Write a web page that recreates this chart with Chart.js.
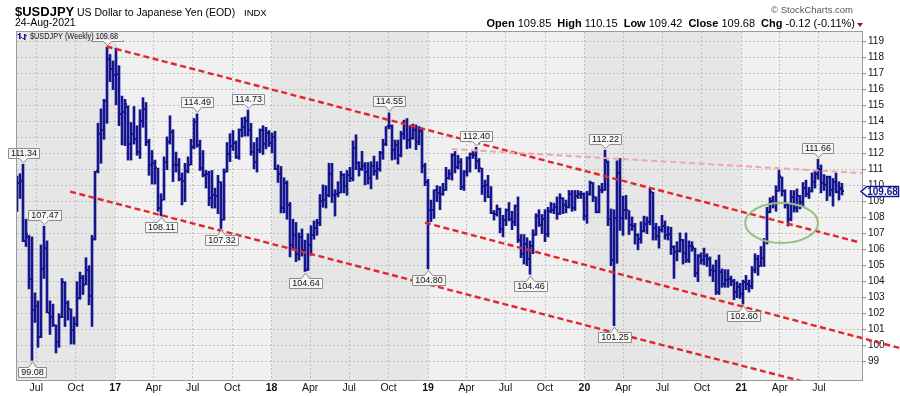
<!DOCTYPE html>
<html><head><meta charset="utf-8"><title>$USDJPY</title>
<script src="https://cdn.jsdelivr.net/npm/chart.js@4.4.1/dist/chart.umd.min.js"></script>
<style>
html,body{margin:0;padding:0;background:#fff;overflow:hidden}
#wrap{position:relative;width:900px;height:396px;font-family:"Liberation Sans",Arial,Helvetica,sans-serif;color:#000}
#c{position:absolute;left:0;top:0}
.t{position:absolute;white-space:nowrap;line-height:1}
#ohlc span{margin-left:6px}
</style></head><body>
<div id="wrap">
<canvas id="c" width="900" height="396"></canvas>
<div class="t" style="left:15px;top:5px;font-size:13px;font-weight:bold">$USDJPY</div>
<div class="t" style="left:77px;top:6.6px;font-size:10.5px">US Dollar to Japanese Yen (EOD)</div>
<div class="t" style="left:244px;top:7.5px;font-size:9.5px">INDX</div>
<div class="t" style="left:15px;top:17.4px;font-size:10.5px">24-Aug-2021</div>
<div class="t" style="right:47px;top:4.5px;font-size:9.5px;color:#555">© StockCharts.com</div>
<div class="t" id="ohlc" style="right:45px;top:18px;font-size:11px"></div>
<div style="position:absolute;left:857px;top:23px;width:0;height:0;border-left:3px solid transparent;border-right:3px solid transparent;border-top:4px solid #8b1a2e"></div>
</div>
<script>
// ---------- DATA (weekly bars, first week = week of 16-May-2016) ----------
const firstBarDate = '2016-05-17';

const opens = [
 108.6,110.15,110.3,106.55,106.8,104.15,102.2,102.5,100.55,104.8,106.1,102.05,101.8,101.3,100.2,101.8,103.95,102.65,102.3,101.0,101.35,102.95,104.2,103.8,104.7,103.1,106.65,110.9,113.2,113.5,115.3,117.9,117.3,
 116.9,116.95,114.5,114.6,114.9,112.6,113.2,112.9,112.1,114.05,114.8,112.7,111.3,111.4,111.1,108.6,109.1,111.5,112.7,113.35,111.3,111.3,110.4,110.3,110.9,111.3,112.4,113.95,112.55,111.1,110.65,110.7,109.2,109.4,109.35,110.25,107.85,110.85,112.0,112.5,112.65,111.8,113.5,113.65,114.05,113.5,112.1,111.5,112.2,113.45,112.6,113.3,
 112.65,113.05,111.05,110.75,108.6,110.15,108.8,106.3,106.9,105.75,106.8,106.0,104.75,106.3,106.9,107.35,107.65,109.05,109.1,109.4,110.75,109.4,109.5,109.55,110.65,109.95,110.65,110.45,112.35,111.4,111.05,111.25,110.85,110.5,111.25,110.9,111.05,112.05,112.6,113.7,113.75,112.2,112.55,111.9,113.2,113.8,112.85,113.0,113.5,112.7,113.4,111.2,
 110.25,108.5,108.5,109.75,109.55,109.5,109.75,110.5,110.7,111.9,111.15,111.45,109.9,110.85,111.7,112.0,111.9,111.55,111.1,109.95,110.05,109.3,108.3,108.2,108.55,107.3,107.85,108.45,107.9,107.7,108.7,106.6,105.7,106.35,105.4,106.25,106.9,108.1,107.55,107.9,106.95,108.4,108.45,108.65,108.2,109.2,108.8,108.65,109.5,108.6,109.35,109.45,
 109.45,108.1,109.45,110.15,109.3,108.35,109.75,109.75,111.5,107.9,105.35,107.95,110.8,107.95,108.45,108.45,107.55,107.5,106.9,106.65,107.15,107.6,107.75,109.6,107.35,106.85,107.2,107.5,106.9,106.95,106.15,105.85,105.9,106.6,105.8,105.35,106.25,106.1,104.55,105.6,105.35,105.6,105.4,104.7,104.65,103.35,104.6,103.85,104.1,104.15,104.05,103.35,103.65,
 103.25,103.95,103.85,103.75,104.7,105.4,104.95,105.45,106.55,108.35,109.05,108.9,109.65,110.55,109.65,108.8,107.9,109.3,108.6,109.35,108.95,109.85,109.5,109.65,110.2,110.75,111.05,110.15,110.05,110.55,109.7,110.25,109.6,109.85
];
const highs = [
 110.6,110.75,111.34,107.9,106.9,106.8,103.3,102.8,106.3,107.47,106.55,102.8,102.6,101.3,102.0,104.2,104.0,102.8,102.3,101.8,104.0,104.6,104.4,105.5,105.0,106.9,110.9,113.9,114.8,115.4,118.66,118.2,117.8,
 118.6,117.5,115.6,115.4,115.0,113.95,114.95,113.75,114.75,115.5,115.2,112.9,112.2,111.6,111.1,109.5,111.8,113.05,114.37,113.5,112.1,111.7,110.8,111.4,111.8,112.9,114.2,114.49,112.85,112.2,110.95,110.9,110.95,109.85,110.65,110.25,111.05,112.7,113.25,113.45,112.8,113.55,114.25,114.3,114.73,113.9,112.7,113.0,113.55,113.75,113.65,113.45,
 113.3,113.4,111.3,111.2,110.5,110.3,108.95,107.9,107.7,107.05,107.3,106.6,107.0,107.5,107.8,107.9,109.45,110.05,110.0,111.4,111.4,109.75,110.25,110.9,110.75,110.95,111.15,112.8,113.18,111.5,112.15,111.45,111.45,111.5,111.85,111.5,112.15,112.9,113.7,114.55,113.8,112.85,112.85,113.4,114.1,114.2,113.75,113.85,113.8,113.7,113.6,111.4,
 110.4,109.1,109.75,110.0,109.95,110.15,111.15,111.0,112.0,112.14,111.9,111.7,110.95,111.8,112.05,112.15,112.40,111.7,111.1,110.35,110.65,109.95,108.45,108.8,108.6,108.15,108.55,108.95,108.4,108.8,109.3,106.95,106.95,106.75,106.55,107.25,108.25,108.5,108.2,108.5,108.65,108.95,108.9,109.3,109.5,109.25,109.1,109.7,109.7,109.7,109.7,109.65,
 109.55,109.65,110.29,110.2,109.3,110.0,110.15,112.22,111.55,108.55,108.5,111.55,111.71,109.35,109.4,108.45,108.05,107.65,107.0,107.75,108.1,108.05,109.85,109.6,107.65,107.45,108.15,107.8,107.45,107.4,106.25,106.5,107.05,106.65,107.05,106.55,106.5,106.1,105.7,105.8,106.1,105.75,105.55,105.05,105.35,105.67,104.8,104.75,104.75,104.35,104.15,104.0,103.9,
 104.1,104.4,104.1,104.95,105.75,105.65,106.2,106.7,108.65,109.25,109.35,110.0,110.97,110.55,109.75,108.9,109.7,109.7,109.8,109.4,110.2,110.35,109.9,110.8,110.95,111.66,111.3,110.7,110.6,110.6,110.45,110.8,110.25,110.15
];
const lows = [
 108.4,109.2,106.5,106.2,103.55,99.08,101.45,99.9,100.5,104.2,102.05,100.7,101.2,99.55,99.9,101.75,101.2,101.6,100.1,100.1,101.2,102.9,103.2,103.8,102.55,101.2,106.6,110.8,111.4,112.9,113.9,116.5,116.0,
 115.05,113.75,112.55,112.5,111.6,111.6,112.6,111.9,111.7,113.65,112.5,110.65,110.1,110.1,108.4,108.11,109.1,111.0,112.6,110.25,110.85,110.3,108.8,109.0,110.8,111.3,112.3,112.4,110.95,110.55,109.85,108.75,108.6,108.6,108.25,107.32,107.85,110.85,111.5,112.2,111.7,111.65,113.05,113.1,113.1,111.9,111.05,110.85,112.05,111.95,112.3,112.45,
 112.05,111.0,110.2,108.3,108.3,107.9,105.55,106.0,105.25,105.35,105.6,104.64,104.7,105.65,106.65,106.9,107.5,108.65,108.6,109.3,108.95,108.1,109.3,109.55,109.55,109.4,110.25,110.3,111.0,110.6,110.95,110.05,110.1,109.8,110.65,110.4,110.9,111.65,112.5,113.55,111.6,111.65,111.35,111.8,112.9,112.3,112.35,112.9,112.25,112.55,110.8,110.0,
 104.8,107.75,107.95,109.0,108.5,109.4,109.7,110.4,110.35,110.8,111.05,109.75,109.7,110.6,110.85,111.7,111.05,110.85,109.45,109.0,109.25,108.25,107.85,108.1,107.05,106.8,107.5,107.8,107.25,107.5,106.45,105.5,105.1,105.0,104.46,105.75,106.9,107.45,107.0,106.5,106.8,108.3,108.25,107.9,108.2,108.25,108.3,108.6,108.4,108.45,109.2,109.2,
 107.85,107.65,109.4,109.0,108.3,108.3,109.55,109.7,107.5,105.0,101.25,105.15,107.2,106.9,107.9,106.95,107.2,106.35,105.99,106.4,107.1,107.0,107.55,106.6,106.6,106.1,107.1,106.65,106.6,105.7,104.2,105.3,105.85,105.1,105.2,105.2,105.9,104.3,104.0,105.1,105.05,104.95,104.35,104.0,103.2,103.2,103.65,103.65,103.65,103.75,102.88,103.0,102.95,
 102.6,103.5,103.35,103.55,104.55,104.4,104.95,104.95,106.35,108.3,108.6,108.4,109.65,109.35,108.6,107.48,107.8,108.35,108.35,108.55,108.7,109.3,109.2,109.6,109.85,110.4,109.55,109.7,109.07,109.35,108.72,109.55,109.1,109.42
];
const closes = [
 110.15,110.3,106.55,106.95,104.15,102.2,102.5,100.55,104.8,106.1,102.05,101.8,101.3,100.2,101.8,103.95,102.65,102.3,101.0,101.35,102.95,104.2,103.8,104.7,103.1,106.65,110.9,113.2,113.5,115.3,117.9,117.3,116.9,
 116.95,114.5,114.6,115.1,112.6,113.2,112.9,112.1,114.05,114.8,112.7,111.3,111.4,111.1,108.6,109.1,111.5,112.7,113.35,111.3,111.3,110.4,110.3,110.9,111.3,112.4,113.95,112.55,111.1,110.65,110.7,109.2,109.4,109.35,110.25,107.85,110.85,112.0,112.5,112.65,111.8,113.5,113.65,114.05,113.5,112.1,111.5,112.2,113.45,112.6,113.3,112.65,
 113.05,111.05,110.75,108.6,110.15,108.8,106.3,106.9,105.75,106.8,106.0,104.75,106.3,106.9,107.35,107.65,109.05,109.1,109.4,110.75,109.4,109.5,109.55,110.65,109.95,110.65,110.45,112.35,111.4,111.05,111.25,110.85,110.5,111.25,110.9,111.05,112.05,112.6,113.7,113.75,112.2,112.55,111.9,113.2,113.8,112.85,113.0,113.5,112.7,113.4,111.2,110.25,
 108.5,108.5,109.75,109.55,109.5,109.75,110.5,110.7,111.9,111.15,111.45,109.9,110.85,111.7,112.0,111.9,111.55,111.1,109.95,110.05,109.3,108.3,108.2,108.55,107.3,107.85,108.45,107.9,107.7,108.7,106.6,105.7,106.35,105.4,106.25,106.9,108.1,107.55,107.9,106.95,108.4,108.45,108.65,108.2,109.25,108.8,108.65,109.5,108.6,109.35,109.45,109.45,
 108.1,109.45,110.15,109.3,108.35,109.75,109.75,111.6,107.9,105.35,107.95,110.8,107.95,108.45,108.45,107.55,107.5,106.9,106.65,107.15,107.6,107.75,109.6,107.35,106.85,107.2,107.5,106.9,106.95,106.15,105.85,105.9,106.6,105.8,105.35,106.25,106.15,104.55,105.6,105.35,105.6,105.4,104.7,104.65,103.35,104.6,103.85,104.1,104.15,104.05,103.35,103.65,103.25,
 103.95,103.85,103.75,104.7,105.4,104.95,105.45,106.55,108.35,109.05,108.9,109.65,110.6,109.65,108.8,107.9,109.3,108.6,109.35,108.95,109.85,109.5,109.65,110.2,110.75,111.05,110.15,110.05,110.55,109.7,110.25,109.6,109.8,109.68
];

// tick labels of the time axis
const tickDates = ['2016-07-01','2016-10-01','2017-01-01','2017-04-01','2017-07-01','2017-10-01','2018-01-01','2018-04-01','2018-07-01','2018-10-01','2019-01-01','2019-04-01','2019-07-01','2019-10-01','2020-01-01','2020-04-01','2020-07-01','2020-10-01','2021-01-01','2021-04-01','2021-07-01'];
const tickLabels = ['Jul','Oct','17','Apr','Jul','Oct','18','Apr','Jul','Oct','19','Apr','Jul','Oct','20','Apr','Jul','Oct','21','Apr','Jul'];
const yTicks = [99,100,101,102,103,104,105,106,107,108,109,110,111,112,113,114,115,116,117,118,119];

// annotated extremes: bar index and side
const markIdx  = [2,5,9,30,48,60,68,77,96,124,137,153,171,196,199,242,267];
const markSide = ['H','L','H','H','L','H','L','H','L','H','L','H','L','H','L','L','H'];

// trend lines [date, value]
const channelTop = [['2016-12-12',118.70],['2021-10-05',106.45]];
const channelMid = [['2016-09-18',109.63],['2021-10-09',96.81]];
const channelLow = [['2018-12-25',107.69],['2022-01-06',99.85]];
const resistance = [['2019-02-26',112.29],['2021-10-09',110.79]];
const ellipseMark = {date:'2021-04-05', value:107.67, rxDays:85, ryVal:1.25};

const shadedYears = [['2016-01-01','2017-01-01'],['2018-01-01','2019-01-01'],['2020-01-01','2021-01-01']];
const changeText = '-0.12 (-0.11%)';

// ---------- helpers ----------
const FONT = '"Liberation Sans", Arial, Helvetica, sans-serif';
const NAVY = '#15158e';
const RED = '#e2262c';
const LIGHT = '#f0f0f0', DARK = '#e6e6e6';
const dayOf = s => { const [y,m,d] = s.split('-').map(Number); return (Date.UTC(y,m-1,d) - Date.UTC(2017,0,1)) / 864e5; };
const N = highs.length;
const x0 = dayOf(firstBarDate);
const xs = highs.map((_, i) => x0 + 7 * i);
const xMin = x0, xMax = x0 + 845 * 7 / 3;

const rangeData = xs.map((x, i) => ({x, y: [lows[i], highs[i]]}));
const openData = xs.map((x, i) => ({x, y: opens[i]}));
const closeData = xs.map((x, i) => ({x, y: closes[i]}));
const lineData = seg => seg.map(([d, v]) => ({x: dayOf(d), y: v}));

function tickImg(left) {
  const c = document.createElement('canvas'); c.width = 4; c.height = 2;
  const g = c.getContext('2d'); g.fillStyle = NAVY;
  if (left) g.fillRect(0, 0, 1, 2); else g.fillRect(3, 0, 1, 2);
  return c;
}

document.getElementById('ohlc').innerHTML =
  `<b>Open</b> ${opens[N-1].toFixed(2)}<span><b>High</b> ${highs[N-1].toFixed(2)}</span><span><b>Low</b> ${lows[N-1].toFixed(2)}</span><span><b>Close</b> ${closes[N-1].toFixed(2)}</span><span><b>Chg</b> ${changeText}</span>`;

function valueLabel(ctx, px, py, text, above) {
  ctx.font = '9px ' + FONT;
  const tw = ctx.measureText(text).width;
  const w = Math.round(tw + 5), h = 10;
  const cx = Math.round(px) + 0.5;
  const left = Math.round(px - w / 2) + 0.5, right = left + w;
  let tip, edge, far;
  if (above) { tip = py - 1.5; edge = Math.round(py - 6.5) + 0.5; far = edge - h; }
  else { tip = py + 1.5; edge = Math.round(py + 6.5) + 0.5; far = edge + h; }
  ctx.beginPath();
  ctx.moveTo(left, edge); ctx.lineTo(left, far); ctx.lineTo(right, far); ctx.lineTo(right, edge);
  ctx.lineTo(cx + 4, edge); ctx.lineTo(cx, tip); ctx.lineTo(cx - 4, edge); ctx.closePath();
  ctx.fillStyle = '#f7f7f7'; ctx.fill();
  ctx.strokeStyle = '#8c8c8c'; ctx.lineWidth = 1; ctx.stroke();
  ctx.fillStyle = '#111'; ctx.textAlign = 'center'; ctx.textBaseline = 'middle';
  ctx.fillText(text, (left + right) / 2, (edge + far) / 2 + 0.5);
}

const bgPlugin = {
  id: 'bg',
  beforeDraw(chart) {
    const {ctx, chartArea: a, scales: {x}} = chart;
    ctx.save();
    ctx.fillStyle = LIGHT;
    ctx.fillRect(a.left, a.top, a.right - a.left, a.bottom - a.top);
    ctx.fillStyle = DARK;
    shadedYears.forEach(([s, e]) => {
      const x1 = Math.max(a.left, x.getPixelForValue(dayOf(s)));
      const x2 = Math.min(a.right, x.getPixelForValue(dayOf(e)));
      if (x2 > x1) ctx.fillRect(x1, a.top, x2 - x1, a.bottom - a.top);
    });
    ctx.restore();
  }
};

const overlayPlugin = {
  id: 'overlay',
  afterDatasetsDraw(chart) {
    const {ctx, scales: {x, y}} = chart;
    ctx.save();
    // ellipse
    const ec = dayOf(ellipseMark.date);
    const cx = x.getPixelForValue(ec), cy = y.getPixelForValue(ellipseMark.value);
    const rx = x.getPixelForValue(ec + ellipseMark.rxDays) - cx;
    const ry = y.getPixelForValue(ellipseMark.value - ellipseMark.ryVal) - cy;
    ctx.beginPath(); ctx.ellipse(cx, cy, rx, ry, 0, 0, Math.PI * 2);
    ctx.strokeStyle = '#98bf80'; ctx.lineWidth = 2; ctx.stroke();
    // value labels
    markIdx.forEach((i, k) => {
      const hi = markSide[k] === 'H';
      const v = hi ? highs[i] : lows[i];
      const px = x.getPixelForValue(xs[i]), py = y.getPixelForValue(v);
      ctx.save();
      if (py - 17 < chart.chartArea.top) { ctx.beginPath(); ctx.rect(0, 40, 900, 400); ctx.clip(); }
      valueLabel(ctx, px, py, v.toFixed(2), hi);
      ctx.restore();
    });
    ctx.restore();
  },
  afterDraw(chart) {
    const {ctx, chartArea: a, scales: {y}} = chart;
    ctx.save();
    // frame
    ctx.strokeStyle = '#9a9a9a'; ctx.lineWidth = 1;
    ctx.strokeRect(a.left - 0.5, a.top - 0.5, a.right - a.left + 1, a.bottom - a.top + 1);
    // legend
    ctx.fillStyle = NAVY;
    ctx.fillRect(19, 33, 1.5, 6); ctx.fillRect(17.5, 34, 1.5, 1); ctx.fillRect(20.5, 37, 1.5, 1);
    ctx.fillRect(24, 34, 1.5, 6); ctx.fillRect(22.5, 38, 1.5, 1); ctx.fillRect(25.5, 35, 1.5, 1);
    ctx.save();
    ctx.translate(30, 39); ctx.scale(0.86, 1);
    ctx.font = '8.5px ' + FONT; ctx.fillStyle = '#111'; ctx.textAlign = 'left'; ctx.textBaseline = 'alphabetic';
    ctx.fillText('$USDJPY (Weekly) ' + closes[N-1].toFixed(2), 0, 0);
    ctx.restore();
    // last price box
    const py = Math.round(y.getPixelForValue(closes[N-1])) + 0.5;
    ctx.beginPath();
    ctx.moveTo(861, py); ctx.lineTo(867, py - 5); ctx.lineTo(898.5, py - 5); ctx.lineTo(898.5, py + 5); ctx.lineTo(867, py + 5); ctx.closePath();
    ctx.fillStyle = '#fff'; ctx.fill();
    ctx.strokeStyle = NAVY; ctx.lineWidth = 1.5; ctx.stroke();
    ctx.font = 'bold 10px ' + FONT; ctx.fillStyle = NAVY; ctx.textAlign = 'center'; ctx.textBaseline = 'middle';
    ctx.fillText(closes[N-1].toFixed(2), 882.5, py + 0.5);
    ctx.restore();
  }
};

const dashed = (data, color, width) => ({
  type: 'line', data, borderColor: color, borderWidth: width, borderDash: [6, 3.5],
  pointRadius: 0, fill: false, tension: 0, order: 0
});

new Chart(document.getElementById('c'), {
  type: 'bar',
  data: {
    datasets: [
      dashed(lineData(resistance), '#f2a7a7', 2),
      dashed(lineData(channelTop), RED, 2.4),
      dashed(lineData(channelMid), RED, 2.4),
      Object.assign(dashed(lineData(channelLow), RED, 2.4), {clip: false}),
      {type: 'line', data: openData, showLine: false, pointStyle: tickImg(true), pointRadius: 1, order: 1},
      {type: 'line', data: closeData, showLine: false, pointStyle: tickImg(false), pointRadius: 1, order: 1},
      {type: 'bar', data: rangeData, backgroundColor: NAVY, barThickness: 2, grouped: false, order: 2}
    ]
  },
  options: {
    animation: false, responsive: false, devicePixelRatio: 1, events: [],
    layout: {padding: {left: 17, top: 32, right: 0, bottom: 0}},
    plugins: {legend: {display: false}, tooltip: {enabled: false}},
    scales: {
      x: {
        type: 'linear', min: xMin, max: xMax, offset: false,
        afterFit(s) { s.height = 16; },
        afterBuildTicks(s) { s.ticks = tickDates.map(d => ({value: dayOf(d)})); },
        grid: {color: '#c2c2c2', drawTicks: false, offset: false},
        border: {display: false, dash: [2, 2]},
        ticks: {
          autoSkip: false, maxRotation: 0, padding: 2, color: '#111',
          callback: (v, i) => tickLabels[i],
          font: c => ({family: FONT, size: 10.5, weight: /^\d/.test(tickLabels[c.index] || '') ? 'bold' : 'normal'})
        }
      },
      y: {
        type: 'linear', position: 'right', min: 97.856, max: 119.606,
        afterFit(s) { s.width = 38; },
        afterBuildTicks(s) { s.ticks = yTicks.map(v => ({value: v})); },
        grid: {color: '#c2c2c2', tickLength: 4, tickColor: '#8a8a8a'},
        border: {display: false, dash: [2, 2]},
        ticks: {padding: 2, color: '#111', font: {family: FONT, size: 10}, callback: v => String(v)}
      }
    }
  },
  plugins: [bgPlugin, overlayPlugin]
});
</script>
</body></html>
